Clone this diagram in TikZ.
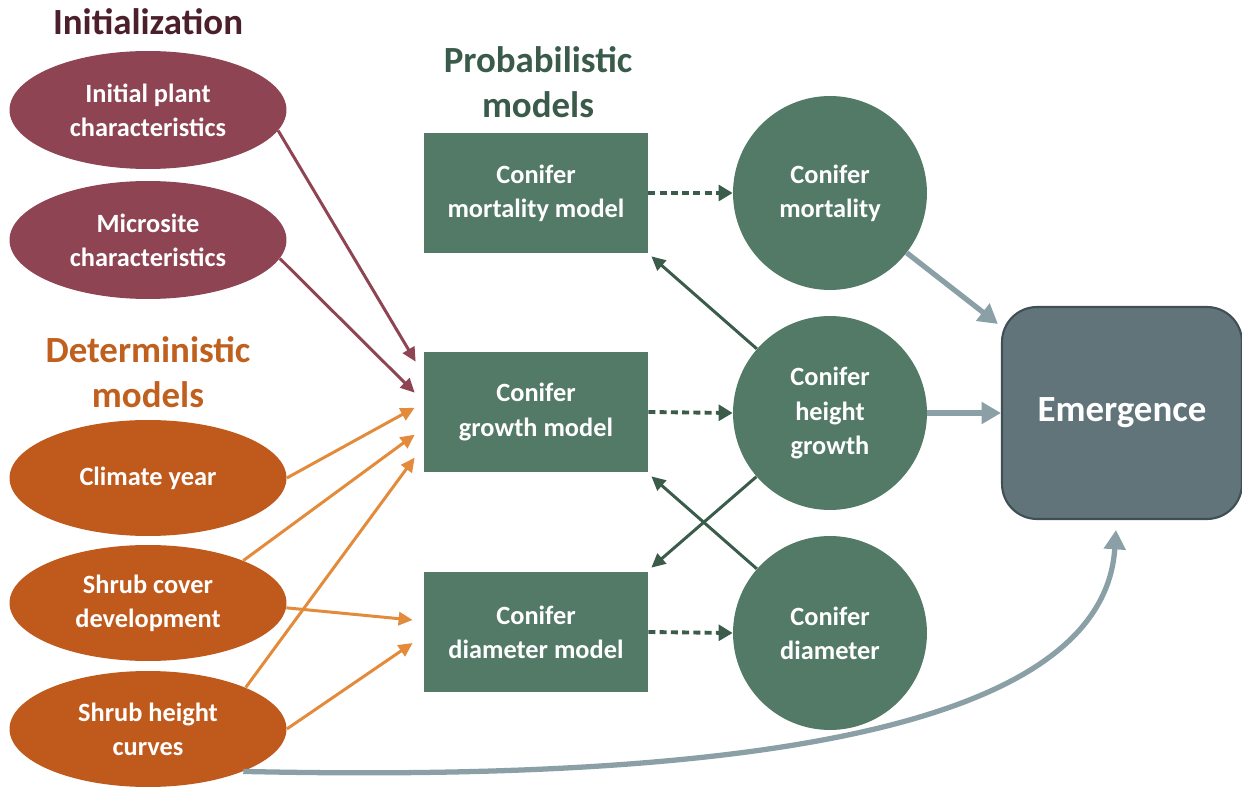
\documentclass[tikz,border=0pt]{standalone}
\usepackage{fontspec}
\setmainfont{Carlito}
\usetikzlibrary{shapes.geometric, arrows.meta}

\definecolor{initfill}{HTML}{8E4452}
\definecolor{inittitle}{HTML}{4B1F2B}
\definecolor{detfill}{HTML}{C0591C}
\definecolor{dettitle}{HTML}{C0601E}
\definecolor{detarrow}{HTML}{E38B3B}
\definecolor{probfill}{HTML}{527A66}
\definecolor{probarrow}{HTML}{3B5C4B}
\definecolor{probtitle}{HTML}{3A5A4A}
\definecolor{emarrow}{HTML}{8BA0A6}
\definecolor{emfill}{HTML}{607479}
\definecolor{emdraw}{HTML}{3F4F55}

\begin{document}
\begin{tikzpicture}[x=0.02cm,y=-0.02cm,>={Triangle[length=8pt,width=7.5pt]},
    body/.style={text=white,align=center,font=\bfseries\fontsize{15}{19.5}\selectfont,inner sep=0pt},
    title/.style={align=center,font=\bfseries\fontsize{21}{25.5}\selectfont},
    init node/.style={body,ellipse,fill=initfill,minimum width=5.54cm,minimum height=2.36cm},
    det node/.style={body,ellipse,fill=detfill,minimum width=5.54cm,minimum height=2.32cm},
    model node/.style={body,rectangle,fill=probfill,minimum width=4.48cm,minimum height=2.4cm},
    out node/.style={body,circle,fill=probfill,minimum size=3.88cm},
    init edge/.style={->,initfill,line width=1.7pt},
    det edge/.style={->,detarrow,line width=1.7pt},
    prob edge/.style={->,probarrow,line width=1.7pt},
    model edge/.style={->,>={Triangle[length=8pt,width=9pt]},probarrow,line width=2.2pt,dash pattern=on 4pt off 2.4pt},
    em edge/.style={->,>={Triangle[length=11pt,width=12pt]},emarrow,line width=3pt}]

\useasboundingbox (0,0) rectangle (1242,787);

% titles
\node[title,text=inittitle]  (tinit) at (148,22)  {Initialization};
\node[title,text=dettitle]   (tdet)  at (148,372) {Deterministic\\models};
\node[title,text=probtitle]  (tprob) at (538,82)  {Probabilistic\\models};

% inputs
\node[init node] (ip)  at (148,110) {Initial plant\\characteristics};
\node[init node] (ms)  at (148,240) {Microsite\\characteristics};
\node[det node]  (cy)  at (148,478) {Climate year};
\node[det node]  (sc)  at (148,603) {Shrub cover\\development};
\node[det node]  (sh)  at (148,729) {Shrub height\\curves};

% models
\node[model node] (mm) at (536,193) {Conifer\\mortality model};
\node[model node] (gm) at (536,412) {Conifer\\growth model};
\node[model node] (dm) at (536,632) {Conifer\\diameter model};

% outputs
\node[out node] (mo) at (830,193) {Conifer\\mortality};
\node[out node] (hg) at (830,413) {Conifer\\height\\growth};
\node[out node] (di) at (830,633) {Conifer\\diameter};

\node[body,rectangle,rounded corners=0.7cm,fill=emfill,draw=emdraw,line width=1.2pt,
      minimum width=4.8cm,minimum height=4.24cm,font=\bfseries\fontsize{21}{25}\selectfont]
      (em) at (1122,413) {Emergence};
\coordinate (emtip) at (1116,530);

% initialization into growth model
\draw[init edge] (ip.-9) -- ([shift={(-8,10)}]gm.north west);
\draw[init edge] (ms.-8) -- ([shift={(-9,41)}]gm.north west);

% deterministic inputs
\draw[det edge] (cy.east) -- ([shift={(-9,56)}]gm.north west);
\draw[det edge] (sc.24)   -- ([shift={(-9,83)}]gm.north west);
\draw[det edge] (sh.23)   -- ([shift={(-9,106)}]gm.north west);
\draw[det edge] (sc.-2)   -- ([shift={(-11,-12)}]dm.west);
\draw[det edge] (sh.east) -- ([shift={(-11,11)}]dm.west);

% model to outcome
\draw[model edge] (mm.east) -- (mo.west);
\draw[model edge] (gm.east) -- (hg.west);
\draw[model edge] (dm.east) -- (di.west);

% feedback
\draw[prob edge] (hg) -- ([shift={(3,3)}]mm.south east);
\draw[prob edge] (hg) -- ([shift={(3,-4)}]dm.north east);
\draw[prob edge] (di) -- ([shift={(3,4)}]gm.south east);

% emergence
\draw[em edge] (mo) -- ([shift={(-3,18)}]em.north west);
\draw[em edge] (hg.east) -- (em.west);
\draw[em edge] (sh.-24) .. controls (850,785) and (1105,700) .. (emtip);
\end{tikzpicture}
\end{document}
